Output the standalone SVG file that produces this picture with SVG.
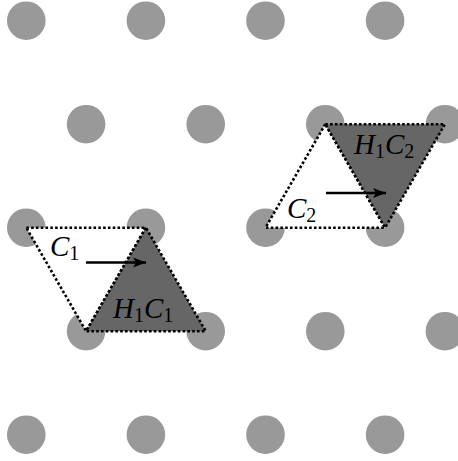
<svg xmlns="http://www.w3.org/2000/svg" width="458" height="461" viewBox="0 0 458 461">
<style>
.dot{fill:#999999}
.tri{stroke:#000;stroke-width:2.6;stroke-dasharray:2.6 2.2;stroke-linejoin:miter}
.w{fill:#ffffff}
.d{fill:#666666}
.lbl{font-family:"Liberation Serif",serif;font-style:italic;font-size:29px;fill:#000}
.sub{font-style:normal;font-size:20px}
.arr{stroke:#000;stroke-width:2.6;fill:none}
</style>
<defs>
<marker id="ah" viewBox="0 0 13 10" refX="13" refY="5" markerWidth="13" markerHeight="10" markerUnits="userSpaceOnUse" orient="auto">
<path d="M0,0 L13,5 L0,10 L3,5 Z" fill="#000"/>
</marker>
</defs>
<g id="lattice">
<circle class="dot" cx="26.3" cy="20.7" r="19.3"/>
<circle class="dot" cx="145.9" cy="20.7" r="19.3"/>
<circle class="dot" cx="265.5" cy="20.7" r="19.3"/>
<circle class="dot" cx="385.1" cy="20.7" r="19.3"/>
<circle class="dot" cx="86.1" cy="124.2" r="19.3"/>
<circle class="dot" cx="205.7" cy="124.2" r="19.3"/>
<circle class="dot" cx="325.3" cy="124.2" r="19.3"/>
<circle class="dot" cx="444.9" cy="124.2" r="19.3"/>
<circle class="dot" cx="26.3" cy="227.7" r="19.3"/>
<circle class="dot" cx="145.9" cy="227.7" r="19.3"/>
<circle class="dot" cx="265.5" cy="227.7" r="19.3"/>
<circle class="dot" cx="385.1" cy="227.7" r="19.3"/>
<circle class="dot" cx="86.1" cy="331.2" r="19.3"/>
<circle class="dot" cx="205.7" cy="331.2" r="19.3"/>
<circle class="dot" cx="325.3" cy="331.2" r="19.3"/>
<circle class="dot" cx="444.9" cy="331.2" r="19.3"/>
<circle class="dot" cx="26.3" cy="434.7" r="19.3"/>
<circle class="dot" cx="145.9" cy="434.7" r="19.3"/>
<circle class="dot" cx="265.5" cy="434.7" r="19.3"/>
<circle class="dot" cx="385.1" cy="434.7" r="19.3"/>
</g>
<g id="C1">
<polygon class="tri w" points="26.3,227.7 145.9,227.7 86.1,331.2"/>
</g>
<g id="H1C1">
<polygon class="tri d" points="145.9,227.7 86.1,331.2 205.7,331.2"/>
</g>
<g id="C2">
<polygon class="tri w" points="325.3,124.2 265.5,227.7 385.1,227.7"/>
</g>
<g id="H1C2">
<polygon class="tri d" points="325.3,124.2 444.9,124.2 385.1,227.7"/>
</g>
<g id="connectors">
<line class="arr" x1="86" y1="262.5" x2="146" y2="262.5" marker-end="url(#ah)"/>
<line class="arr" x1="326" y1="193" x2="386" y2="193" marker-end="url(#ah)"/>
</g>
<g id="labels">
<text class="lbl" x="50" y="256">C<tspan class="sub" dy="4">1</tspan></text>
<text class="lbl" x="113" y="318">H<tspan class="sub" dy="4">1</tspan><tspan dy="-4">C</tspan><tspan class="sub" dy="4">1</tspan></text>
<text class="lbl" x="287" y="218">C<tspan class="sub" dy="4">2</tspan></text>
<text class="lbl" x="354" y="154">H<tspan class="sub" dy="4">1</tspan><tspan dy="-4">C</tspan><tspan class="sub" dy="4">2</tspan></text>
</g>
</svg>
